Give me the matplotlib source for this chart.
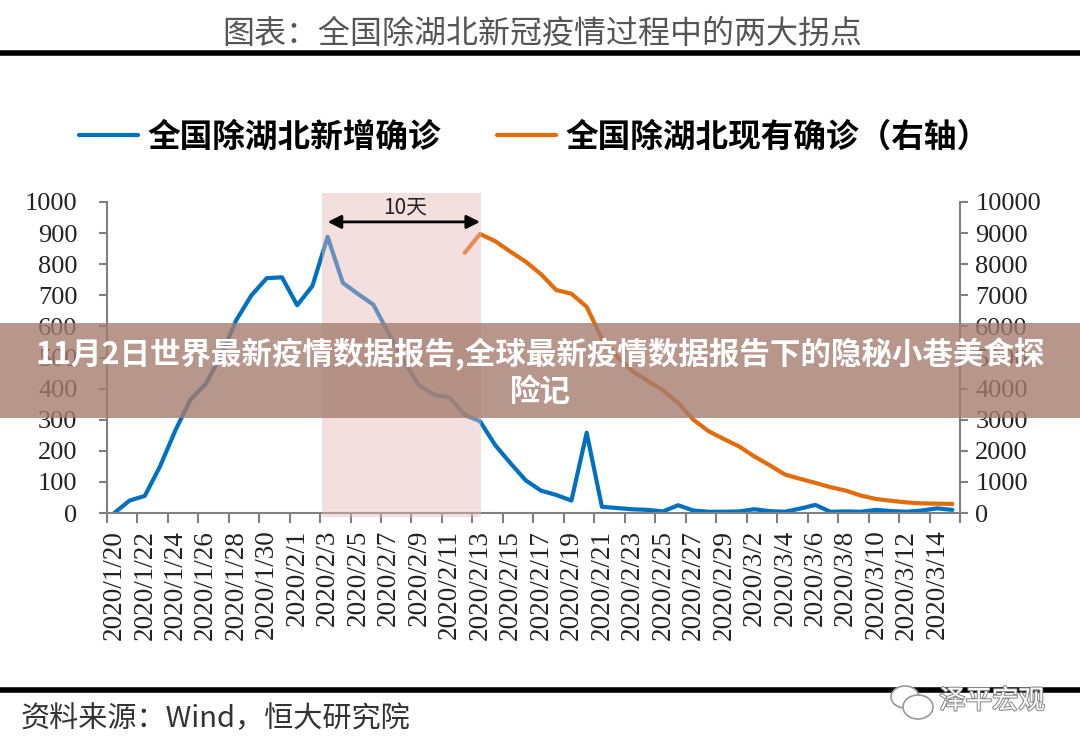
import numpy as np
import pandas as pd
import matplotlib.pyplot as plt
import matplotlib.patheffects as pe
from matplotlib.patches import Rectangle, Ellipse

plt.rcParams['font.family'] = ['Noto Sans CJK SC', 'DejaVu Sans']

# 数据：2020/1/20 ~ 2020/3/15
dates = [f"{d.year}/{d.month}/{d.day}" for d in pd.date_range("2020-01-20", "2020-03-15")]
new_cases = [0, 40, 55, 150, 265, 365, 415, 505, 620, 700,
             755, 758, 668, 730, 888, 740, 704, 670, 578, 490,
             410, 380, 372, 315, 295, 218, 160, 105, 72, 58,
             40, 258, 20, 16, 12, 10, 5, 25, 8, 4,
             4, 5, 12, 6, 4, 14, 26, 4, 5, 4,
             10, 6, 4, 8, 15, 10]
existing = [np.nan] * 23 + [8370, 8970, 8740, 8400, 8080, 7680, 7170, 7050, 6630, 5600,
                            5030, 4560, 4250, 3950, 3540, 3000, 2630, 2380, 2140, 1820,
                            1540, 1240, 1100, 970, 830, 720, 560, 450, 390, 340,
                            310, 300, 290]
left_ticks = [0, 100, 200, 300, 400, 500, 600, 700, 800, 900, 1000]
right_ticks = [0, 1000, 2000, 3000, 4000, 5000, 6000, 7000, 8000, 9000, 10000]

blue = '#0070C0'
orange = '#E36C0A'
grey = '#808080'

fig = plt.figure(figsize=(10.8, 7.47), dpi=100)
ax = fig.add_axes([106.7 / 1080, 1 - 513 / 747, (960 - 106.7) / 1080, (513 - 202) / 747])
ax2 = ax.twinx()

x = np.arange(len(dates))
l1, = ax.plot(x, new_cases, color=blue, lw=3, solid_joinstyle='round', solid_capstyle='round')
l2, = ax2.plot(x, existing, color=orange, lw=3, solid_joinstyle='round', solid_capstyle='round')

ax.set_xlim(-0.5, len(dates) - 0.5)
ax.set_ylim(0, 1000)
ax2.set_ylim(0, 10000)

# 阴影区
span = ax2.axvspan(13.6, 24.05, ymin=-0.012, ymax=1.03, color='#e6b8b7', alpha=0.45, lw=0, zorder=5)
span.set_clip_on(False)

ax2.annotate('', xy=(24, 9360), xytext=(14, 9360),
             arrowprops=dict(arrowstyle='<|-|>', color='black', lw=2, mutation_scale=20,
                             shrinkA=0, shrinkB=0), zorder=6)
ax2.text(19.1, 9810, '10天', ha='center', va='center', fontsize=15, color='#222222', zorder=6)

for a in (ax, ax2):
    a.spines['top'].set_visible(False)
    for s in ('left', 'right', 'bottom'):
        a.spines[s].set_color(grey)
        a.spines[s].set_linewidth(1.5)
ax.spines['right'].set_visible(False)
ax2.spines['left'].set_visible(False)
ax2.spines['bottom'].set_visible(False)

tf = {'family': 'Liberation Serif', 'size': 19}
ax.set_yticks(left_ticks)
ax.set_yticklabels([str(v) for v in left_ticks], fontdict=tf, color='#222222')
ax2.set_yticks(right_ticks)
ax2.set_yticklabels([str(v) for v in right_ticks], fontdict=tf, color='#222222')
ax.tick_params(axis='y', direction='out', length=6, width=1.5, color=grey, pad=15)
ax2.tick_params(axis='y', direction='out', length=6, width=1.5, color=grey, pad=5)

ax.set_xticks(x[::2])
ax.set_xticklabels(dates[::2], rotation=90, fontdict={'family': 'Liberation Serif', 'size': 19.5},
                   color='#222222', va='top', ha='center')
ax.set_xticks(np.arange(-0.5, len(dates), 2), minor=True)
ax.tick_params(axis='x', which='major', length=0, pad=12)
ax.tick_params(axis='x', which='minor', direction='out', length=7, width=1.5, color=grey)

# 图例
fig.legend([l1, l2], ['全国除湖北新增确诊', '全国除湖北现有确诊（右轴）'], loc='center',
           bbox_to_anchor=(0.495, 1 - 137 / 747), ncol=2, frameon=False,
           prop={'family': 'Noto Sans CJK SC', 'weight': 'bold', 'size': 23.5},
           handlelength=1.8, handletextpad=0.3, columnspacing=1.7)

# 标题与横线
fig.text(0.502, 1 - 34 / 747, '图表：全国除湖北新冠疫情过程中的两大拐点', ha='center', va='center',
         fontsize=23, color='#555555')
fig.add_artist(plt.Line2D([0, 1], [1 - 53 / 747] * 2, color='black', lw=4))
fig.add_artist(plt.Line2D([0, 1], [1 - 690 / 747] * 2, color='black', lw=4))
fig.text(21 / 1080, 1 - 719 / 747, '资料来源：Wind，恒大研究院', ha='left', va='center',
         fontsize=21, color='#333333', style='italic')

# 水印
for cx, cy, w, h in [(905, 697, 28, 22), (918, 707, 30, 24)]:
    fig.add_artist(Ellipse((cx / 1080, 1 - cy / 747), w / 1080, h / 747, facecolor='white',
                           edgecolor='#999999', lw=1.2, zorder=8))
fig.text(992 / 1080, 1 - 701 / 747, '泽平宏观', ha='center', va='center', fontsize=19, color='white',
         zorder=9, path_effects=[pe.withStroke(linewidth=1.5, foreground='#888888')])

# 横幅
fig.add_artist(Rectangle((0, 1 - 418 / 747), 1, 95 / 747, transform=fig.transFigure,
                         facecolor=(165 / 255, 125 / 255, 111 / 255), alpha=0.8, lw=0, zorder=10))
fig.text(540 / 1080, 1 - 354 / 747, '11月2日世界最新疫情数据报告,全球最新疫情数据报告下的隐秘小巷美食探',
         ha='center', va='center', fontsize=22, weight='bold', color='white', zorder=11)
fig.text(540 / 1080, 1 - 392 / 747, '险记', ha='center', va='center', fontsize=22, weight='bold',
         color='white', zorder=11)

fig.savefig('out.png', dpi=100)
